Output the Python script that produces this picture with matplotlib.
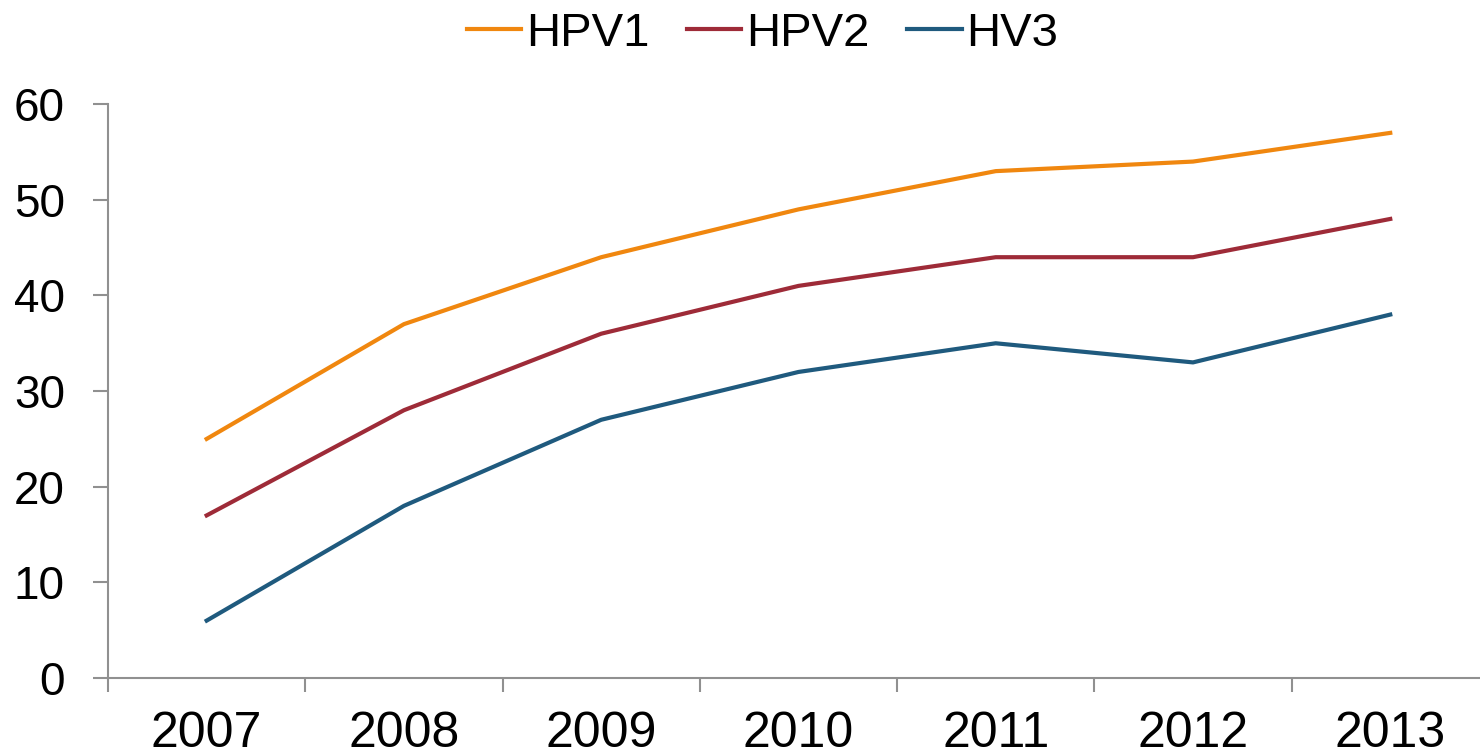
import matplotlib.pyplot as plt
import numpy as np

years = ["2007", "2008", "2009", "2010", "2011", "2012", "2013"]
hpv1 = [25, 37, 44, 49, 53, 54, 57]
hpv2 = [17, 28, 36, 41, 44, 44, 48]
hv3 = [6, 18, 27, 32, 35, 33, 38]

plt.rcParams['font.family'] = ['Liberation Sans', 'DejaVu Sans']

fig = plt.figure(figsize=(14.8, 7.55), dpi=100)
ax = fig.add_axes([0.073, 0.102, 0.933, 0.760])

x = np.arange(len(years)) + 0.5
ax.plot(x, hpv1, color="#F0870F", lw=3, label="HPV1")
ax.plot(x, hpv2, color="#9E2B38", lw=3, label="HPV2")
ax.plot(x, hv3, color="#1F5A7E", lw=3, label="HV3")

ax.set_xlim(0, len(years))
ax.set_ylim(0, 60)
ax.set_yticks(range(0, 61, 10))
ax.set_xticks(np.arange(len(years) + 1))
ax.set_xticklabels([])
ax.set_xticks(x, minor=True)
ax.set_xticklabels(years, minor=True)

for s in ["top", "right"]:
    ax.spines[s].set_visible(False)
for s in ["left", "bottom"]:
    ax.spines[s].set_color("#909090")
    ax.spines[s].set_linewidth(1.5)

ax.tick_params(axis="y", length=11, width=1.5, color="#909090", labelsize=33, pad=20)
ax.tick_params(axis="x", which="major", length=10, width=1.5, color="#909090")
ax.tick_params(axis="x", which="minor", length=0, labelsize=36, pad=24)

ax.legend(loc="upper center", bbox_to_anchor=(0.474, 1.235), ncol=3, frameon=False,
          fontsize=34, handlelength=1.15, handletextpad=0.1, columnspacing=0.8)

plt.savefig("out.png", dpi=100)
